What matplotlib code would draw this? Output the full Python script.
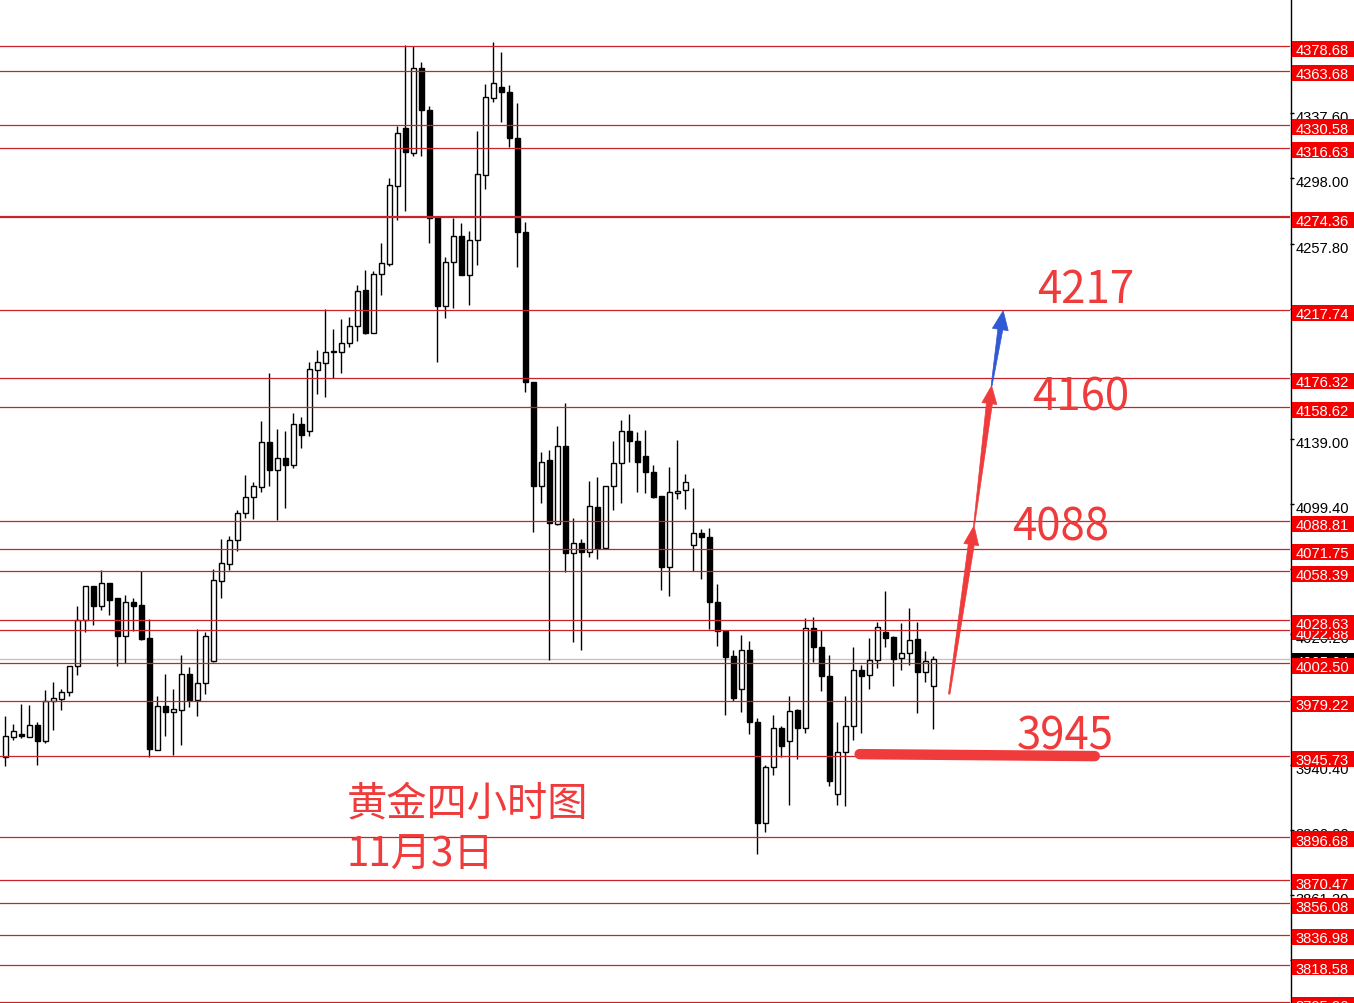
import matplotlib
matplotlib.use("Agg")
import matplotlib.pyplot as plt
from matplotlib.patches import Polygon, Rectangle
from matplotlib.transforms import IdentityTransform
import numpy as np

# 4小时K线
opens = [
    3945.1, 3957.6, 3959.3, 3957.6, 3964.8, 3955.2, 3979.2, 3980.6, 3984.6, 4000.5,
    4028.9, 4049.2, 4037.4, 4051.3, 4041.9, 4019.1, 4039.9, 4037.8, 4017.8, 3949.7,
    3976.1, 3972.9, 3974.1, 3995.9, 3980.2, 3990.4, 4003.5, 4052.6, 4063.2, 4077.4,
    4093.8, 4103.5, 4109.6, 4137.1, 4120.4, 4127.3, 4123.4, 4148.1, 4144.2, 4181.3,
    4185.2, 4191.9, 4191.9, 4197.4, 4208.1, 4229.9, 4203.7, 4239.6, 4245.8, 4293.1,
    4328.7, 4313.4, 4365.1, 4339.6, 4274.2, 4220.3, 4246.8, 4262.6, 4239.2, 4260.2,
    4300.2, 4346.9, 4353.5, 4350.4, 4322.6, 4265.4, 4173.9, 4110.6, 4126.3, 4087.3,
    4134.7, 4069.5, 4075.5, 4070.0, 4097.4, 4072.8, 4110.2, 4124.3, 4144.1, 4137.7,
    4128.9, 4118.8, 4104.2, 4060.9, 4106.0, 4108.0, 4074.5, 4081.6, 4079.2, 4039.5,
    4022.3, 4006.6, 3986.7, 4010.6, 3966.4, 3904.8, 3938.9, 3962.7, 3955.2, 3973.9,
    3962.7, 4023.6, 4012.1, 3994.5, 3922.7, 3948.1, 3963.9, 3998.3, 3995.4, 4004.5,
    4021.6, 4018.2, 4005.4, 4008.4, 4016.9, 3997.2, 3988.7]
highs = [
    3970.4, 3965.4, 3977.6, 3977.0, 3966.4, 3986.1, 3991.1, 3986.7, 4000.7, 4037.4,
    4049.4, 4049.4, 4059.2, 4051.3, 4042.1, 4043.9, 4041.9, 4058.8, 4029.3, 3982.6,
    3995.6, 3986.7, 4007.4, 4000.3, 4023.4, 4021.6, 4059.8, 4078.0, 4080.0, 4095.9,
    4117.1, 4113.0, 4149.9, 4179.2, 4145.2, 4143.8, 4154.8, 4152.7, 4186.2, 4193.3,
    4218.3, 4206.1, 4212.2, 4213.6, 4232.9, 4242.3, 4241.3, 4258.6, 4298.0, 4329.7,
    4379.3, 4378.5, 4369.1, 4342.3, 4274.4, 4249.8, 4273.8, 4270.8, 4266.1, 4327.0,
    4355.5, 4381.3, 4375.2, 4354.9, 4343.9, 4271.5, 4174.1, 4131.0, 4132.4, 4146.9,
    4161.1, 4090.8, 4078.1, 4113.3, 4115.7, 4110.4, 4138.0, 4150.7, 4154.3, 4143.2,
    4144.6, 4123.2, 4104.3, 4121.8, 4138.5, 4117.7, 4109.2, 4084.2, 4084.8, 4050.7,
    4022.6, 4010.4, 4019.6, 4016.1, 3968.8, 3940.3, 3970.8, 3964.3, 3982.6, 3974.5,
    4029.7, 4030.4, 4022.6, 4007.4, 3966.4, 3982.2, 4012.1, 4001.3, 4017.6, 4027.3,
    4046.2, 4019.2, 4026.9, 4035.9, 4027.7, 4010.0, 4006.6]
lows = [
    3939.9, 3955.8, 3957.0, 3957.2, 3940.4, 3953.8, 3961.9, 3974.1, 3982.4, 3995.2,
    4021.2, 4025.8, 4035.0, 4031.9, 4000.9, 4002.5, 4022.2, 4016.5, 3945.1, 3949.5,
    3958.2, 3946.5, 3952.5, 3975.5, 3970.4, 3983.6, 4003.2, 4041.9, 4059.4, 4071.0,
    4090.7, 4090.3, 4106.6, 4110.6, 4089.8, 4097.0, 4121.2, 4133.6, 4140.8, 4166.5,
    4164.5, 4176.2, 4179.3, 4195.0, 4199.0, 4203.1, 4203.7, 4226.9, 4244.7, 4272.6,
    4278.2, 4311.8, 4311.4, 4258.4, 4185.8, 4212.7, 4218.8, 4239.2, 4220.8, 4245.1,
    4291.5, 4344.3, 4332.1, 4316.9, 4244.1, 4167.6, 4082.2, 4100.1, 4004.2, 4086.8,
    4057.9, 4015.1, 4010.6, 4067.0, 4065.9, 4072.0, 4096.0, 4099.9, 4125.1, 4107.0,
    4106.0, 4102.9, 4047.2, 4043.5, 4102.5, 4096.4, 4058.8, 4053.7, 4023.4, 4013.1,
    3971.0, 3979.6, 3972.9, 3959.3, 3886.0, 3899.7, 3934.3, 3945.1, 3916.1, 3944.1,
    3959.9, 4002.9, 3985.7, 3927.8, 3916.1, 3915.5, 3955.8, 3959.9, 3986.7, 3999.7,
    4012.5, 3988.3, 3998.4, 4001.3, 3972.1, 3991.1, 3962.2]
closes = [
    3957.9, 3960.9, 3958.3, 3964.6, 3955.2, 3979.2, 3981.0, 3984.9, 4000.5, 4028.9,
    4049.2, 4037.4, 4051.3, 4041.1, 4019.1, 4039.5, 4037.4, 4017.1, 3950.1, 3976.1,
    3972.9, 3974.5, 3995.9, 3980.2, 3990.4, 4018.8, 4053.1, 4063.4, 4077.4, 4093.9,
    4103.5, 4110.2, 4137.1, 4120.4, 4127.3, 4123.4, 4148.1, 4141.7, 4181.8, 4185.8,
    4191.9, 4192.1, 4197.4, 4207.9, 4229.6, 4203.7, 4239.6, 4246.4, 4293.9, 4325.4,
    4313.8, 4365.1, 4339.5, 4273.6, 4220.3, 4246.8, 4262.6, 4239.2, 4260.2, 4300.6,
    4347.4, 4356.1, 4350.4, 4322.4, 4265.1, 4173.9, 4110.6, 4125.0, 4087.7, 4134.7,
    4069.5, 4075.5, 4070.0, 4098.0, 4072.8, 4110.2, 4124.3, 4144.1, 4137.7, 4125.3,
    4118.8, 4103.9, 4060.9, 4106.6, 4107.6, 4112.7, 4081.6, 4079.2, 4039.5, 4021.8,
    4006.3, 3981.0, 4010.6, 3966.4, 3904.8, 3938.9, 3962.7, 3952.1, 3973.5, 3962.7,
    4023.6, 4012.1, 3994.8, 3930.5, 3948.1, 3963.9, 3998.3, 3994.8, 4004.5, 4024.3,
    4017.8, 4005.0, 4008.4, 4016.5, 3997.2, 4003.5, 4005.24]

# 水平线
red_levels = [4378.68, 4363.68, 4330.58, 4316.63, 4274.36, 4217.74, 4176.32, 4158.62,
              4088.81, 4071.75, 4058.39, 4028.63, 4022.88, 4002.50, 3979.22, 3945.73,
              3896.68, 3870.47, 3856.08, 3836.98, 3818.58, 3795.96]
thick_level = 4274.36
scale_ticks = [4337.60, 4298.00, 4257.80, 4218.20, 4178.60, 4139.00, 4099.40, 4059.80,
               4020.20, 3980.60, 3940.40, 3900.80, 3861.20, 3821.60]
last_price = 4005.24

# 标注
title_lines = ["黄金四小时图", "11月3日"]
targets = ["4217", "4160", "4088", "3945"]

RED_LINE = "#C8232B"
LABEL_RED = "#F50000"
ANNO_RED = "#EF3B3B"
BLUE = "#3059D6"

W, H = 1354, 1004
fig = plt.figure(figsize=(W / 100, H / 100), dpi=100)
fig.patch.set_facecolor("white")
ax = fig.add_axes([0, 0, 1290 / W, 1])
sc = fig.add_axes([1290 / W, 0, 64 / W, 1])

ylo, yhi = 3795.3, 4407.3
ax.set_ylim(ylo, yhi)
ax.set_xlim(-0.66, 160.6)
sc.set_ylim(ylo, yhi)
sc.set_xlim(0, 64)
for a in (ax, sc):
    a.set_axis_off()

# K线
x = np.arange(len(opens))
o = np.array(opens)
c = np.array(closes)
bull = c >= o
ax.vlines(x, lows, highs, color="black", lw=1.0, zorder=2)
body_lo = np.minimum(o, c)
body_h = np.maximum(np.abs(c - o), 0.6)
ax.bar(x[bull], body_h[bull], bottom=body_lo[bull], width=0.58,
       facecolor="white", edgecolor="black", linewidth=1.0, zorder=3)
ax.bar(x[~bull], body_h[~bull], bottom=body_lo[~bull], width=0.62,
       facecolor="black", edgecolor="black", linewidth=1.0, zorder=3)

# 水平线
ax.axhline(last_price, color="#C9C2C2", lw=1.0, zorder=1)
for lv in red_levels:
    ax.axhline(lv, color=RED_LINE, lw=1.6 if lv == thick_level else 0.9, zorder=4)

# 价格刻度 (标签略低于线)
sc.axvline(0.5, color="black", lw=1.0)
sc.hlines(scale_ticks, 0, 4, color="black", lw=1.0)
font_lbl = dict(family="Liberation Sans", fontsize=10.6)
box_h = 9.75
drop = 1.6
base_off = 3.2 + drop
for t in scale_ticks:
    sc.text(5.5, t - base_off, f"{t:.2f}", color="black", va="baseline", ha="left",
            zorder=2, **font_lbl)
sc.add_patch(Rectangle((1.5, last_price - drop - box_h / 2), 62, box_h,
                       facecolor="black", edgecolor="none", zorder=3))
sc.text(5.5, last_price - base_off, f"{last_price:.2f}", color="white", va="baseline",
        ha="left", zorder=3, **font_lbl)
for i, lv in enumerate(sorted(red_levels)):
    z = 4 + i * 0.01
    sc.add_patch(Rectangle((1.5, lv - drop - box_h / 2), 62, box_h,
                           facecolor=LABEL_RED, edgecolor="none", zorder=z))
    sc.text(5.5, lv - base_off, f"{lv:.2f}", color="white", va="baseline", ha="left",
            zorder=z + 0.005, **font_lbl)

# 文字
cjk = ["Noto Sans CJK SC", "DejaVu Sans"]
ax.text(42.7, 3910.5, title_lines[0], color=ANNO_RED, fontsize=29,
        family=cjk, va="baseline", ha="left", zorder=6)
ax.text(42.7, 3878.8, title_lines[1], color=ANNO_RED, fontsize=29,
        family=cjk, va="baseline", ha="left", zorder=6)
target_pos = [(129.0, 4222.6), (128.4, 4156.8), (125.9, 4078.1), (126.4, 3950.7)]
for txt, (tx, ty) in zip(targets, target_pos):
    ax.text(tx, ty, txt, color=ANNO_RED, fontsize=31.5, family=cjk,
            va="baseline", ha="left", zorder=6)


def tapered_arrow(start, end, color, w_tail, w_shaft, head_w, head_len):
    p0 = ax.transData.transform(start)
    p1 = ax.transData.transform(end)
    d = p1 - p0
    u = d / np.hypot(*d)
    n = np.array([-u[1], u[0]])
    base = p1 - u * head_len
    pts = [p0 + n * w_tail / 2, base + n * w_shaft / 2, base + n * head_w / 2, p1,
           base - n * head_w / 2, base - n * w_shaft / 2, p0 - n * w_tail / 2]
    fig.patches.append(Polygon(pts, closed=True, facecolor=color, edgecolor=color,
                               lw=0.5, transform=IdentityTransform(), zorder=7))


tapered_arrow((118.0, 3983.6), (121.1, 4086.2), ANNO_RED, 1.5, 6, 15, 19)
tapered_arrow((121.1, 4086.2), (123.3, 4171.6), ANNO_RED, 1.0, 6, 15, 18)
tapered_arrow((123.3, 4171.6), (124.75, 4217.3), BLUE, 1.0, 5, 16, 19)

# 支撑粗线
ax.plot([106.8, 136.2], [3947.0, 3945.8], color=ANNO_RED, lw=7.5,
        solid_capstyle="round", zorder=6)

fig.savefig("out.png", dpi=100, facecolor="white")
